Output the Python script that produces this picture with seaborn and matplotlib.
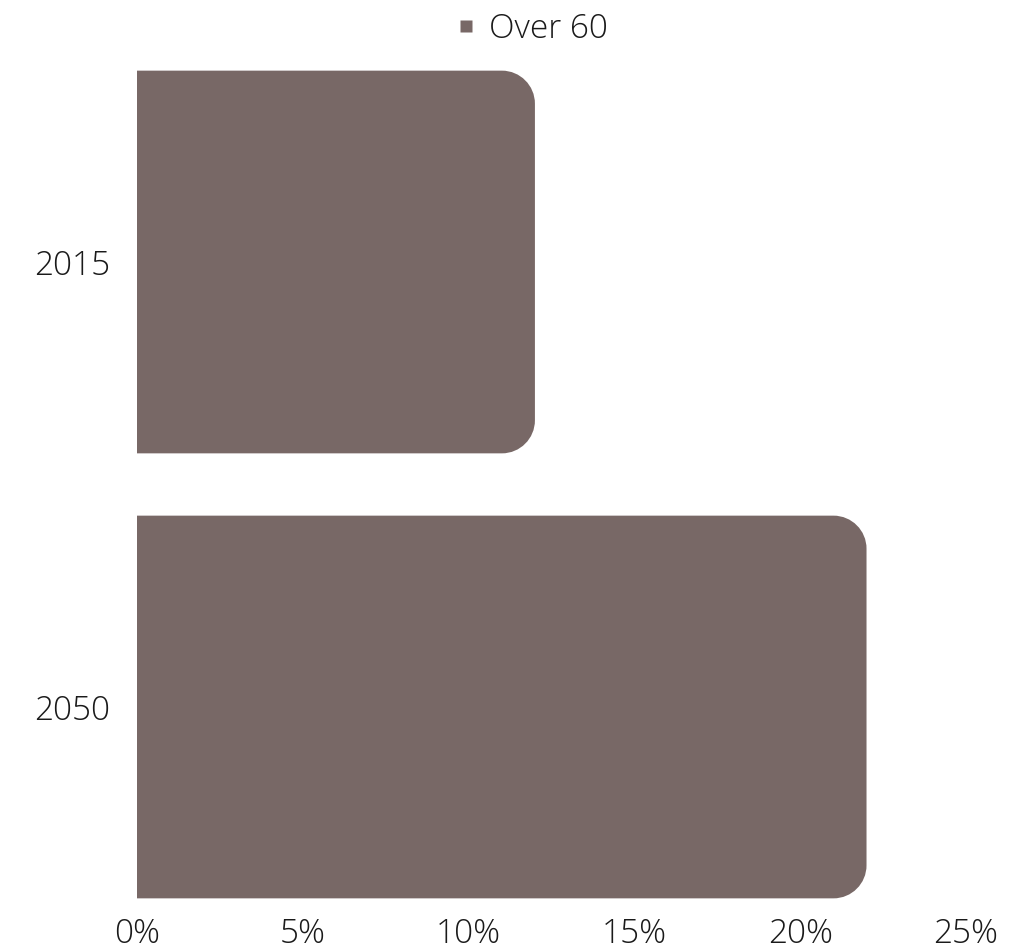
import matplotlib
matplotlib.use("Agg")
import matplotlib.pyplot as plt
import seaborn as sns
import pandas as pd
from matplotlib.path import Path
from matplotlib.patches import PathPatch
from matplotlib.lines import Line2D
from matplotlib.transforms import IdentityTransform

years = ["2015", "2050"]
over60 = [12.0, 22.0]
xticks = [0, 5, 10, 15, 20, 25]
xtick_labels = ["0%", "5%", "10%", "15%", "20%", "25%"]
series_name = "Over 60"
bar_color = "#786866"

sns.set_theme(style="white")
plt.rcParams['font.family'] = ['Open Sans', 'DejaVu Sans']

fig = plt.figure(figsize=(10.14, 9.51), dpi=100)
ax = fig.add_axes([137/1014, 1 - 915/951, (966-137)/1014, (915-40)/951])

df = pd.DataFrame({"year": years, "value": over60})
sns.barplot(data=df, x="value", y="year", orient="h", color=bar_color,
            saturation=1, width=0.86, ax=ax)

ax.set_xlim(0, 25)
ax.set_ylim(1 + (915-707)/445, -(262-40)/445)
ax.set_xticks(xticks)
ax.set_xticklabels(xtick_labels)
ax.set_xlabel("")
ax.set_ylabel("")
for s in ax.spines.values():
    s.set_visible(False)
ax.tick_params(axis="both", length=0, labelsize=24, labelcolor="#1a1a1a")
ax.tick_params(axis="x", pad=2)
ax.tick_params(axis="y", pad=19)
for lbl in ax.get_xticklabels() + ax.get_yticklabels():
    lbl.set_fontweight("light")

# round right corners of bars (in display pixels)
fig.canvas.draw()
r = 33
for p in list(ax.patches):
    x0, y0 = p.get_x(), p.get_y()
    w, h = p.get_width(), p.get_height()
    (dx0, dy0) = ax.transData.transform((x0, y0))
    (dx1, dy1) = ax.transData.transform((x0 + w, y0 + h))
    left, right = min(dx0, dx1), max(dx0, dx1)
    bot, top = min(dy0, dy1), max(dy0, dy1)
    k = 0.5523 * r
    verts = [
        (left, bot),
        (right - r, bot),
        (right - r + k, bot), (right, bot + r - k), (right, bot + r),
        (right, top - r),
        (right, top - r + k), (right - r + k, top), (right - r, top),
        (left, top),
        (left, bot),
    ]
    codes = [Path.MOVETO, Path.LINETO,
             Path.CURVE4, Path.CURVE4, Path.CURVE4,
             Path.LINETO,
             Path.CURVE4, Path.CURVE4, Path.CURVE4,
             Path.LINETO, Path.CLOSEPOLY]
    pp = PathPatch(Path(verts, codes), facecolor=bar_color, edgecolor="none",
                   transform=IdentityTransform(), clip_on=False)
    p.set_visible(False)
    ax.add_artist(pp)

handle = Line2D([], [], marker="s", linestyle="none", markersize=8.5,
                markerfacecolor=bar_color, markeredgecolor="none")
leg = fig.legend([handle], [series_name], loc="center", bbox_to_anchor=(530/1014, 1 - 29/951),
                 frameon=False, fontsize=24, handletextpad=0.3, handlelength=0.8)
for t in leg.get_texts():
    t.set_fontweight("light")
    t.set_color("#1a1a1a")

fig.savefig("out.png", dpi=100)
